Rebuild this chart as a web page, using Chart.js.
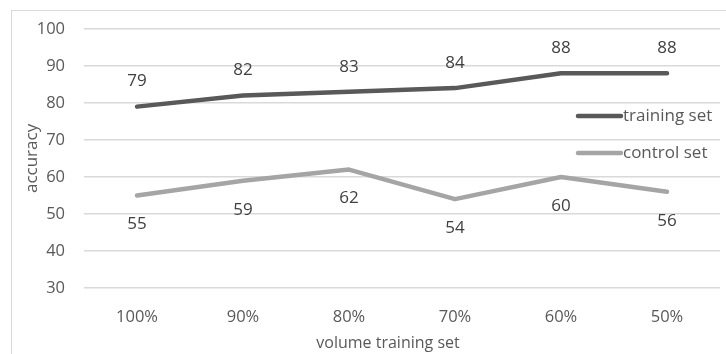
<!DOCTYPE html>
<html>
<head>
<meta charset="utf-8">
<script src="https://cdn.jsdelivr.net/npm/chart.js@4/dist/chart.umd.min.js"></script>
<style>
  html, body { margin: 0; padding: 0; background: #fff; }
  #wrap { width: 726px; height: 354px; position: relative; }
</style>
</head>
<body>
<div id="wrap"><canvas id="c" width="726" height="354"></canvas></div>
<script>
// Categories and series values
const categories = ['100%', '90%', '80%', '70%', '60%', '50%'];
const trainingSet = [79, 82, 83, 84, 88, 88];
const controlSet = [55, 59, 62, 54, 60, 56];
const seriesNames = ['training set', 'control set'];
const yTicks = [30, 40, 50, 60, 70, 80, 90, 100];
const xTitle = 'volume training set';

const FONT = '"Open Sans", Lato, sans-serif';
const TEXT = '#595959';

// Light outline around the chart (top and left edges visible)
const frame = {
  id: 'frame',
  beforeDraw(chart) {
    const ctx = chart.ctx;
    ctx.save();
    ctx.strokeStyle = '#D9D9D9';
    ctx.lineWidth = 1;
    ctx.strokeRect(11.5, 10.5, 760, 400);
    ctx.restore();
  }
};

// Value labels: above the training line, below the control line
const valueLabels = {
  id: 'valueLabels',
  afterDatasetsDraw(chart) {
    const ctx = chart.ctx;
    ctx.save();
    ctx.font = '17px ' + FONT;
    ctx.fillStyle = '#404040';
    ctx.textAlign = 'center';
    ctx.textBaseline = 'middle';
    chart.data.datasets.forEach((ds, i) => {
      const meta = chart.getDatasetMeta(i);
      meta.data.forEach((pt, j) => {
        const dy = i === 0 ? -25 : 29;
        ctx.fillText(String(ds.data[j]), pt.x, pt.y + dy);
      });
    });
    ctx.restore();
  }
};

// Legend inside the plot on the right, and the horizontal axis title
const sideLegend = {
  id: 'sideLegend',
  afterDraw(chart) {
    const ctx = chart.ctx;
    const rows = [116, 153];
    ctx.save();
    ctx.font = '17px ' + FONT;
    ctx.textAlign = 'left';
    ctx.textBaseline = 'middle';
    chart.data.datasets.forEach((ds, i) => {
      const y = rows[i];
      ctx.strokeStyle = ds.borderColor;
      ctx.lineWidth = ds.borderWidth;
      ctx.lineCap = 'round';
      ctx.beginPath();
      ctx.moveTo(578, y);
      ctx.lineTo(621, y);
      ctx.stroke();
      ctx.fillStyle = TEXT;
      ctx.fillText(ds.label, 623, y);
    });
    ctx.font = '16px ' + FONT;
    ctx.textAlign = 'center';
    ctx.fillStyle = TEXT;
    ctx.fillText(xTitle, 388, 343);
    ctx.restore();
  }
};

new Chart(document.getElementById('c'), {
  type: 'line',
  data: {
    labels: categories,
    datasets: [
      {
        label: seriesNames[0],
        data: trainingSet,
        borderColor: '#595959',
        backgroundColor: '#595959',
        borderWidth: 4.5,
        pointRadius: 0,
        tension: 0,
        borderCapStyle: 'round',
        borderJoinStyle: 'round'
      },
      {
        label: seriesNames[1],
        data: controlSet,
        borderColor: '#A5A5A5',
        backgroundColor: '#A5A5A5',
        borderWidth: 4.5,
        pointRadius: 0,
        tension: 0,
        borderCapStyle: 'round',
        borderJoinStyle: 'round'
      }
    ]
  },
  options: {
    responsive: false,
    animation: false,
    events: [],
    layout: { padding: { top: 27, right: 6, bottom: 0, left: 0 } },
    plugins: {
      legend: { display: false },
      tooltip: { enabled: false }
    },
    scales: {
      x: {
        offset: true,
        grid: { display: false, drawTicks: false },
        border: { display: false },
        ticks: { color: TEXT, font: { family: FONT, size: 16.5 }, padding: 19 },
        afterFit(scale) { scale.height = 66; }
      },
      y: {
        min: 30,
        max: 100,
        afterBuildTicks(scale) { scale.ticks = yTicks.map(v => ({ value: v })); },
        grid: { color: '#D9D9D9', lineWidth: 1.5, drawTicks: false },
        border: { display: false },
        ticks: { color: TEXT, font: { family: FONT, size: 16.5 }, padding: 19 },
        title: {
          display: true,
          text: 'accuracy',
          color: TEXT,
          font: { family: FONT, size: 17 },
          padding: { top: 22, bottom: 0 }
        },
        afterFit(scale) { scale.width = 84; }
      }
    }
  },
  plugins: [frame, valueLabels, sideLegend]
});
</script>
</body>
</html>
